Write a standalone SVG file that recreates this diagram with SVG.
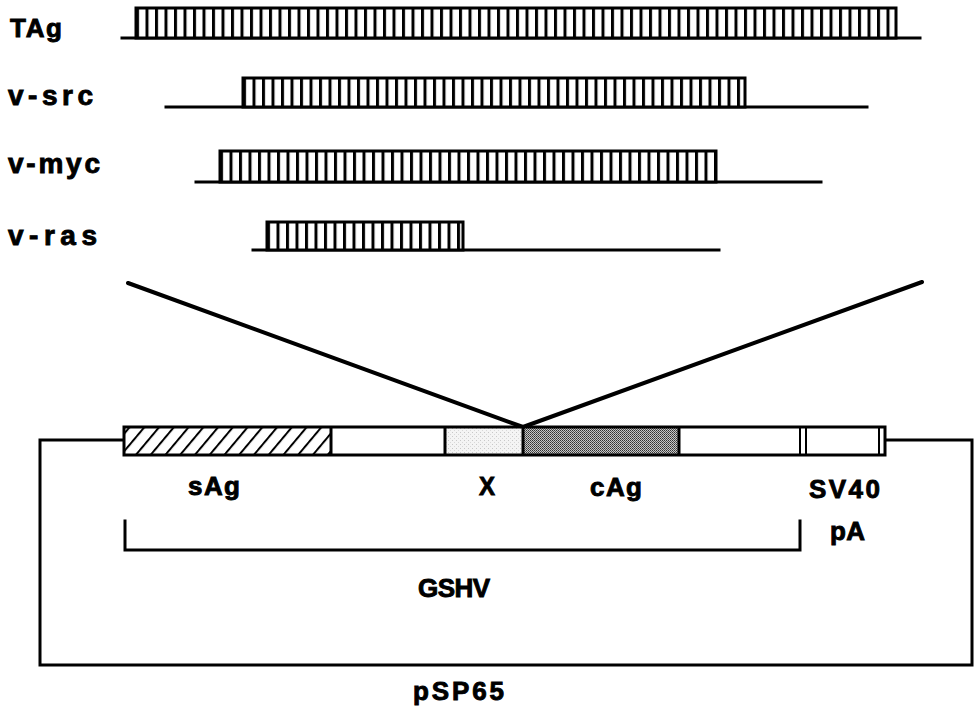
<svg xmlns="http://www.w3.org/2000/svg" width="974" height="710" viewBox="0 0 974 710">
<style>
.lbl{font-family:"Liberation Sans",Arial,sans-serif;font-weight:bold;font-size:26px;fill:#000;stroke:#000;stroke-width:0.9}
.lc{font-size:28px}
.ln{stroke:#000;stroke-width:3;fill:none;stroke-linecap:square}
.bar{fill:url(#stripes);stroke:#000;stroke-width:3}
.seg{stroke:#000;stroke-width:3}
</style>
<defs>
<pattern id="stripes" patternUnits="userSpaceOnUse" width="9.5" height="40">
<rect width="9.5" height="40" fill="#fff"/>
<rect x="0" width="3" height="40" fill="#000"/>
</pattern>
<pattern id="hatch" patternUnits="userSpaceOnUse" width="11.3" height="11.3" patternTransform="rotate(40)">
<rect width="11.3" height="11.3" fill="#fff"/>
<rect x="0" width="2" height="11.3" fill="#000"/>
</pattern>
<pattern id="dots" patternUnits="userSpaceOnUse" width="2" height="2">
<rect width="2" height="2" fill="#c8c8c8"/>
<rect x="0" y="0" width="1" height="1" fill="#333"/>
<rect x="1" y="1" width="1" height="1" fill="#555"/>
</pattern>
<pattern id="light" patternUnits="userSpaceOnUse" width="4" height="4">
<rect width="4" height="4" fill="#f4f4f4"/>
<rect x="0" y="0" width="1" height="1" fill="#c8c8c8"/>
<rect x="2" y="2" width="1" height="1" fill="#d8d8d8"/>
</pattern>
</defs>

<g id="TAg">
<line class="ln" x1="122" y1="38" x2="920" y2="38"/>
<g transform="translate(136,8)"><rect class="bar" x="0" y="0" width="760" height="30"/></g>
<text class="lbl" x="10" y="37" textLength="52" lengthAdjust="spacing">TAg</text>
</g>

<g id="v-src">
<line class="ln" x1="166" y1="107" x2="867" y2="107"/>
<g transform="translate(243,78)"><rect class="bar" x="0" y="0" width="502" height="29"/></g>
<text class="lbl lc" x="8" y="105" textLength="85" lengthAdjust="spacing">v-src</text>
</g>

<g id="v-myc">
<line class="ln" x1="196" y1="182" x2="821" y2="182"/>
<g transform="translate(220,151)"><rect class="bar" x="0" y="0" width="496" height="31"/></g>
<text class="lbl lc" x="8" y="173" textLength="92" lengthAdjust="spacing">v-myc</text>
</g>

<g id="v-ras">
<line class="ln" x1="253" y1="250" x2="719" y2="250"/>
<g transform="translate(267,222)"><rect class="bar" x="0" y="0" width="196" height="28"/></g>
<text class="lbl lc" x="8" y="245" textLength="89" lengthAdjust="spacing">v-ras</text>
</g>

<g id="connectors">
<line x1="128" y1="283" x2="523" y2="427" stroke="#000" stroke-width="4" stroke-linecap="round"/>
<line x1="922" y1="282" x2="523" y2="427" stroke="#000" stroke-width="4" stroke-linecap="round"/>
</g>

<g id="pSP65">
<path class="ln" d="M124 440 H40 V665 H972 V440 H885"/>
<text class="lbl" x="413" y="700" textLength="91" lengthAdjust="spacing">pSP65</text>
</g>

<g id="construct">
<rect x="124" y="427" width="207" height="28" fill="url(#hatch)"/>
<rect x="331" y="427" width="114" height="28" fill="#fff"/>
<rect x="445" y="427" width="78" height="28" fill="url(#light)"/>
<rect x="523" y="427" width="156" height="28" fill="url(#dots)"/>
<rect x="679" y="427" width="206" height="28" fill="#fff"/>
<line class="seg" x1="331" y1="427" x2="331" y2="455"/>
<line class="seg" x1="445" y1="427" x2="445" y2="455"/>
<line class="seg" x1="523" y1="427" x2="523" y2="455"/>
<line class="seg" x1="679" y1="427" x2="679" y2="455"/>
<line x1="800" y1="427" x2="800" y2="455" stroke="#000" stroke-width="2"/>
<line x1="806" y1="427" x2="806" y2="455" stroke="#000" stroke-width="2"/>
<line x1="879" y1="427" x2="879" y2="455" stroke="#000" stroke-width="2"/>
<rect x="124" y="427" width="761" height="28" fill="none" stroke="#000" stroke-width="3"/>
</g>

<g id="sAg"><text class="lbl" x="188" y="495" textLength="52" lengthAdjust="spacing">sAg</text></g>
<g id="X"><text class="lbl" x="479" y="495" textLength="16" lengthAdjust="spacingAndGlyphs">X</text></g>
<g id="cAg"><text class="lbl" x="590" y="496" textLength="52" lengthAdjust="spacing">cAg</text></g>
<g id="SV40pA">
<text class="lbl" x="809" y="498" textLength="71" lengthAdjust="spacing">SV40</text>
<text class="lbl" x="830" y="540" textLength="35" lengthAdjust="spacing">pA</text>
</g>

<g id="GSHV">
<path class="ln" d="M125 521 V550 H800 V521"/>
<text class="lbl" x="418" y="597" textLength="72" lengthAdjust="spacing">GSHV</text>
</g>
</svg>
